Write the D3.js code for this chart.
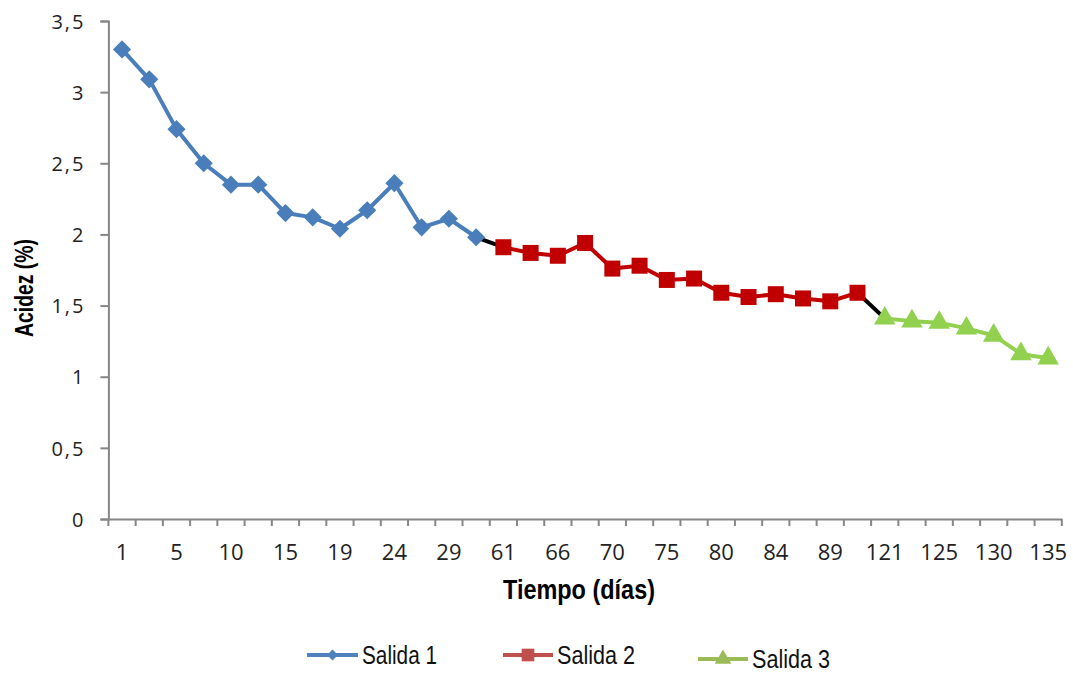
<!DOCTYPE html>
<html>
<head>
<meta charset="utf-8">
<script src="https://cdn.jsdelivr.net/npm/d3@7"></script>
<style>
  html, body { margin: 0; padding: 0; background: #fff; }
  svg { display: block; }
</style>
</head>
<body>
<svg id="chart" width="1073" height="673"></svg>
<script>
// Acidez (%) a lo largo del tiempo, por salida
const salida1Dias = [1, 3, 5, 8, 10, 12, 15, 17, 19, 22, 24, 26, 29, 31];
const salida1 = [3.30, 3.09, 2.74, 2.50, 2.35, 2.35, 2.15, 2.12, 2.04, 2.17, 2.36, 2.05, 2.11, 1.98];

const salida2Dias = [61, 63, 66, 68, 70, 73, 75, 77, 80, 82, 84, 87, 89, 91];
const salida2 = [1.91, 1.87, 1.85, 1.94, 1.76, 1.78, 1.68, 1.69, 1.59, 1.56, 1.58, 1.55, 1.53, 1.59];

const salida3Dias = [121, 123, 125, 128, 130, 133, 135];
const salida3 = [1.41, 1.39, 1.38, 1.34, 1.29, 1.16, 1.13];

const yTicks = [0, 0.5, 1, 1.5, 2, 2.5, 3, 3.5];
const seriesNames = ["Salida 1", "Salida 2", "Salida 3"];

const dias = [...salida1Dias, ...salida2Dias, ...salida3Dias].map(String);

const svg = d3.select("#chart");
const plot = { left: 108.4, right: 1061.8, top: 21, bottom: 519 };

const x = d3.scaleBand().domain(dias).range([plot.left, plot.right]).padding(0);
const y = d3.scaleLinear().domain([0, 3.5]).range([plot.bottom, plot.top]);
const cx = d => x(String(d)) + x.bandwidth() / 2;

const axisColor = "#868686";
const tickFont = "'Open Sans', 'Noto Sans', sans-serif";

// Eje Y
const yAxis = svg.append("g")
  .attr("transform", `translate(${plot.left},0)`)
  .call(d3.axisLeft(y).tickValues(yTicks).tickSize(8).tickPadding(17)
    .tickFormat(d => d3.format("")(d).replace(".", ",")));
yAxis.select(".domain").attr("stroke", axisColor).attr("stroke-width", 2);
yAxis.selectAll(".tick line").attr("stroke", axisColor).attr("stroke-width", 2);
yAxis.selectAll(".tick text")
  .attr("font-family", tickFont).attr("font-size", 20).attr("fill", "#222")
  .attr("dy", "0.36em")
  .each(function(d) {
    if (String(d).includes(".")) d3.select(this).attr("textLength", 32).attr("lengthAdjust", "spacing");
  });

// Eje X: etiquetas cada dos categorías, marcas en los límites de categoría
const labelDias = dias.filter((d, i) => i % 2 === 0);
const xAxis = svg.append("g")
  .attr("transform", `translate(0,${plot.bottom})`)
  .call(d3.axisBottom(x).tickValues(labelDias).tickSize(0).tickPadding(25).tickSizeOuter(0));
xAxis.select(".domain").attr("stroke", axisColor).attr("stroke-width", 2);
xAxis.selectAll(".tick text")
  .attr("font-family", tickFont).attr("font-size", 22).attr("fill", "#222");

const bounds = dias.map(d => x(d)).concat([plot.right]);
svg.append("g").selectAll("line").data(bounds).join("line")
  .attr("x1", d => d).attr("x2", d => d)
  .attr("y1", plot.bottom).attr("y2", plot.bottom + 7)
  .attr("stroke", axisColor).attr("stroke-width", 2);

// Títulos de ejes
svg.append("text")
  .attr("transform", "translate(33,288) rotate(-90)")
  .attr("text-anchor", "middle")
  .attr("font-family", "'Liberation Sans Narrow', 'Liberation Sans', Arial, sans-serif")
  .attr("font-weight", "bold").attr("font-size", 25).attr("fill", "#000")
  .attr("textLength", 98).attr("lengthAdjust", "spacingAndGlyphs")
  .text("Acidez (%)");

svg.append("text")
  .attr("x", 579).attr("y", 599)
  .attr("text-anchor", "middle")
  .attr("font-family", "'Liberation Sans Narrow', 'Liberation Sans', Arial, sans-serif")
  .attr("font-weight", "bold").attr("font-size", 27).attr("fill", "#000")
  .attr("textLength", 152).attr("lengthAdjust", "spacingAndGlyphs")
  .text("Tiempo (días)");

// Series
const s1 = salida1Dias.map((d, i) => ({ d, v: salida1[i] }));
const s2 = salida2Dias.map((d, i) => ({ d, v: salida2[i] }));
const s3 = salida3Dias.map((d, i) => ({ d, v: salida3[i] }));

const line = d3.line().x(p => cx(p.d)).y(p => y(p.v));

// Tramos de enlace entre salidas
const enlaces = [[s1[s1.length - 1], s2[0]], [s2[s2.length - 1], s3[0]]];
svg.append("g").selectAll("path").data(enlaces).join("path")
  .attr("d", line).attr("fill", "none").attr("stroke", "#000").attr("stroke-width", 4);

const series = [
  { data: s1, color: "#4A7EBB", symbol: d3.symbolSquare, size: 165, rotate: 45 },
  { data: s2, color: "#C00000", symbol: d3.symbolSquare, size: 256, rotate: 0 },
  { data: s3, color: "#92D050", symbol: d3.symbolTriangle, size: 200, rotate: 0 }
];

series.forEach(s => {
  svg.append("path").datum(s.data)
    .attr("d", line).attr("fill", "none")
    .attr("stroke", s.color).attr("stroke-width", 4).attr("stroke-linejoin", "round");
  svg.append("g").selectAll("path").data(s.data).join("path")
    .attr("transform", p => `translate(${cx(p.d)},${y(p.v)}) rotate(${s.rotate})`)
    .attr("d", d3.symbol().type(s.symbol).size(s.size))
    .attr("fill", s.color);
});

// Leyenda
const legend = [
  { name: seriesNames[0], color: "#4F81BD", symbol: d3.symbolSquare, size: 60, rotate: 45, x1: 307, x2: 358, ly: 655, tx: 362, ty: 664, tw: 75 },
  { name: seriesNames[1], color: "#C0504D", symbol: d3.symbolSquare, size: 160, rotate: 0, x1: 503, x2: 553, ly: 655, tx: 557, ty: 664, tw: 78 },
  { name: seriesNames[2], color: "#9BBB59", symbol: d3.symbolTriangle, size: 120, rotate: 0, x1: 698, x2: 748, ly: 659, tx: 752, ty: 668, tw: 78 }
];
const lg = svg.append("g").selectAll("g").data(legend).join("g");
lg.append("line")
  .attr("x1", d => d.x1).attr("x2", d => d.x2).attr("y1", d => d.ly).attr("y2", d => d.ly)
  .attr("stroke", d => d.color).attr("stroke-width", 4);
lg.append("path")
  .attr("transform", d => `translate(${(d.x1 + d.x2) / 2},${d.ly}) rotate(${d.rotate})`)
  .attr("d", d => d3.symbol().type(d.symbol).size(d.size)())
  .attr("fill", d => d.color);
lg.append("text")
  .attr("x", d => d.tx).attr("y", d => d.ty)
  .attr("font-family", "'Liberation Sans Narrow', 'Liberation Sans', Arial, sans-serif")
  .attr("font-size", 25).attr("fill", "#111")
  .attr("textLength", d => d.tw).attr("lengthAdjust", "spacingAndGlyphs")
  .text(d => d.name);
</script>
</body>
</html>
